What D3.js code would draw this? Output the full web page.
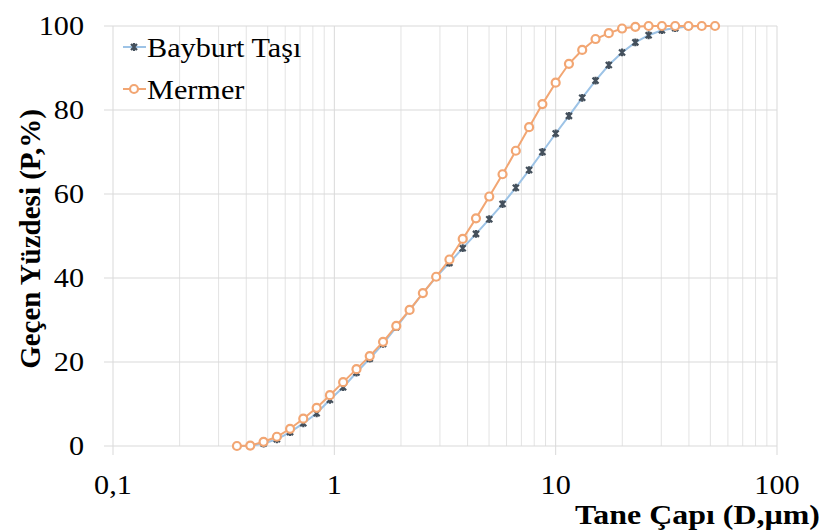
<!DOCTYPE html>
<html>
<head>
<meta charset="utf-8">
<script src="https://cdn.jsdelivr.net/npm/d3@7"></script>
<style>
  body { margin: 0; background: #fff; }
  text { font-family: "Liberation Serif", "Times New Roman", serif; fill: #000; }
</style>
</head>
<body>
<div id="chart"></div>
<script>
// particle sizes (µm)
const sizes = [0.363, 0.417, 0.479, 0.550, 0.631, 0.724, 0.832, 0.955, 1.096, 1.259,
  1.445, 1.660, 1.905, 2.188, 2.512, 2.884, 3.311, 3.802, 4.365, 5.012,
  5.754, 6.607, 7.586, 8.710, 10.00, 11.48, 13.18, 15.14, 17.38, 19.95,
  22.91, 26.30, 30.20, 34.67, 39.81, 45.71, 52.48];

// cumulative passing (%)
const bayburt = [0, 0.05, 0.6, 1.6, 3.3, 5.4, 7.8, 11.0, 14.0, 17.5,
  20.8, 24.3, 28.3, 32.3, 36.4, 40.2, 43.6, 47.1, 50.5, 54.0,
  57.6, 61.5, 65.7, 70.0, 74.4, 78.6, 82.9, 87.0, 90.7, 93.7,
  96.1, 97.8, 99.0, 99.5, 99.9, 100, 100];
const mermer = [0, 0.1, 1.0, 2.2, 4.1, 6.5, 9.1, 12.1, 15.2, 18.3,
  21.4, 24.8, 28.6, 32.4, 36.4, 40.3, 44.4, 49.3, 54.2, 59.4,
  64.7, 70.3, 75.9, 81.4, 86.5, 91.0, 94.3, 96.9, 98.3, 99.4,
  99.8, 100, 100, 100, 100, 100, 100];

const seriesNames = ["Bayburt Taşı", "Mermer"];
const xTicks = [0.1, 1, 10, 100];
const xTickLabels = ["0,1", "1", "10", "100"];
const yTicks = [0, 20, 40, 60, 80, 100];

const width = 819, height = 531;
const sx = 1.12; // the picture is a bit stretched sideways

const svg = d3.select("#chart").append("svg")
  .attr("width", width)
  .attr("height", height);

const x = d3.scaleLog().domain([0.1, 100]).range([113, 777]);
const y = d3.scaleLinear().domain([0, 100]).range([446, 26]);

// minor vertical grid
const minor = [];
[0.1, 1, 10].forEach(d => { for (let k = 2; k <= 9; k++) minor.push(d * k); });
svg.append("g").selectAll("line")
  .data(minor)
  .enter().append("line")
  .attr("x1", d => x(d)).attr("x2", d => x(d))
  .attr("y1", y(0)).attr("y2", y(100))
  .style("stroke", "#e3e3e3").style("stroke-width", 1);

// major vertical lines + ticks below the axis
svg.append("g").selectAll("line")
  .data(xTicks)
  .enter().append("line")
  .attr("x1", d => x(d)).attr("x2", d => x(d))
  .attr("y1", y(100)).attr("y2", y(0) + 9)
  .style("stroke", "#d9d9d9").style("stroke-width", 1);

// horizontal grid (sticks out left as ticks)
svg.append("g").selectAll("line")
  .data(yTicks)
  .enter().append("line")
  .attr("x1", x(0.1) - 9).attr("x2", x(100))
  .attr("y1", d => y(d)).attr("y2", d => y(d))
  .style("stroke", "#d9d9d9").style("stroke-width", 1.2);

// tick labels
svg.append("g").selectAll("text")
  .data(yTicks)
  .enter().append("text")
  .attr("transform", d => `translate(84,${y(d) + 9}) scale(${sx},1)`)
  .attr("text-anchor", "end")
  .style("font-size", "27px")
  .text(d => d);

svg.append("g").selectAll("text")
  .data(xTicks)
  .enter().append("text")
  .attr("transform", d => `translate(${x(d)},494) scale(${sx},1)`)
  .attr("text-anchor", "middle")
  .style("font-size", "27px")
  .text((d, i) => xTickLabels[i]);

// axis titles
svg.append("text")
  .attr("transform", `translate(40,239) rotate(-90)`)
  .attr("text-anchor", "middle")
  .style("font-size", "29px")
  .style("font-weight", "bold")
  .text("Geçen Yüzdesi (P,%)");

svg.append("text")
  .attr("transform", `translate(820,524) scale(1.14,1)`)
  .attr("text-anchor", "end")
  .style("font-size", "28px")
  .style("font-weight", "bold")
  .text("Tane Çapı (D,µm)");

// series
const line = d3.line()
  .x(d => x(d[0]))
  .y(d => y(d[1]));

const blueData = sizes.map((s, i) => [s, bayburt[i]]);
const orangeData = sizes.map((s, i) => [s, mermer[i]]);

const blueCol = "#9dc3e6", markCol = "#44505c", orangeCol = "#f2a673";
const star = r => `M${-r},${-r}L${r},${r}M${-r},${r}L${r},${-r}M0,${-r * 1.3}L0,${r * 1.3}`;

svg.append("path")
  .datum(blueData)
  .attr("d", line)
  .style("fill", "none").style("stroke", blueCol).style("stroke-width", 2);

svg.append("g").selectAll("path")
  .data(blueData)
  .enter().append("path")
  .attr("transform", d => `translate(${x(d[0])},${y(d[1])})`)
  .attr("d", star(3))
  .style("fill", "none").style("stroke", markCol).style("stroke-width", 2.2);

svg.append("path")
  .datum(orangeData)
  .attr("d", line)
  .style("fill", "none").style("stroke", orangeCol).style("stroke-width", 2);

svg.append("g").selectAll("circle")
  .data(orangeData)
  .enter().append("circle")
  .attr("cx", d => x(d[0]))
  .attr("cy", d => y(d[1]))
  .attr("r", 4)
  .style("fill", "#fff").style("stroke", orangeCol).style("stroke-width", 2.2);

// legend
const legend = svg.append("g");
const legY = [47, 89];
legend.append("line")
  .attr("x1", 123).attr("x2", 146).attr("y1", legY[0]).attr("y2", legY[0])
  .style("stroke", blueCol).style("stroke-width", 2);
legend.append("path")
  .attr("transform", `translate(134,${legY[0]})`)
  .attr("d", star(3))
  .style("fill", "none").style("stroke", markCol).style("stroke-width", 2.2);
legend.append("line")
  .attr("x1", 123).attr("x2", 146).attr("y1", legY[1]).attr("y2", legY[1])
  .style("stroke", orangeCol).style("stroke-width", 2);
legend.append("circle")
  .attr("cx", 134).attr("cy", legY[1]).attr("r", 4)
  .style("fill", "#fff").style("stroke", orangeCol).style("stroke-width", 2.2);

legend.selectAll("text")
  .data(seriesNames)
  .enter().append("text")
  .attr("transform", (d, i) => `translate(147,${legY[i] + 10}) scale(${sx},1)`)
  .style("font-size", "27px")
  .text(d => d);
</script>
</body>
</html>
